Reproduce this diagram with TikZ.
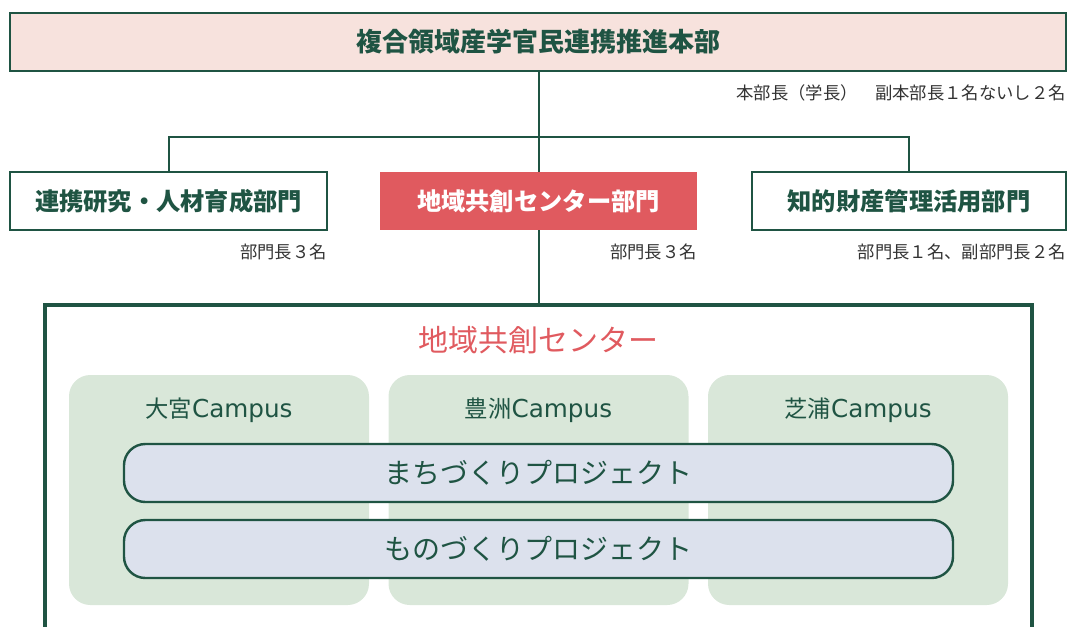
\documentclass[tikz,border=0pt]{standalone}
\usepackage{fontspec}
\newfontfamily\jp{Noto Sans CJK JP}
\newfontfamily\lat{DejaVu Sans}
\definecolor{dg}{HTML}{1F5443}
\definecolor{rd}{HTML}{E05A5F}
\definecolor{pk}{HTML}{F7E2DD}
\definecolor{cg}{HTML}{D9E7D9}
\definecolor{pl}{HTML}{DCE1ED}
\definecolor{tx}{HTML}{333333}
\tikzset{
  topbox/.style={draw=dg,line width=2.2pt,fill=pk,minimum width=792pt,minimum height=43.5pt,inner sep=0pt,
    font=\jp\bfseries\fontsize{19.5}{22}\selectfont,text=dg},
  deptbox/.style={draw=dg,line width=2.2pt,fill=white,minimum height=43.5pt,inner sep=0pt,
    font=\jp\bfseries\fontsize{18.2}{22}\selectfont,text=dg},
  redbox/.style={fill=rd,minimum height=43.5pt,inner sep=0pt,
    font=\jp\bfseries\fontsize{18.2}{22}\selectfont,text=white},
  sublabel/.style={anchor=east,inner sep=0pt,font=\jp\fontsize{13}{15}\selectfont,text=tx},
  campus/.style={fill=cg,rounded corners=16pt,minimum width=225pt,minimum height=172.5pt,inner sep=0pt},
  campuslabel/.style={inner sep=0pt,text=dg},
  pill/.style={draw=dg,line width=1.8pt,fill=pl,rounded corners=16pt,minimum width=621.75pt,minimum height=43.5pt,
    inner sep=0pt,font=\jp\fontsize{21}{24}\selectfont,text=dg},
  conn/.style={draw=dg,line width=1.5pt},
  bigframe/.style={draw=dg,line width=3.6pt}
}
\newcommand{\camp}[1]{{\jp\fontsize{17.5}{18}\selectfont #1}{\lat\fontsize{18.5}{18}\selectfont Campus}}
\begin{document}
\begin{tikzpicture}[x=0.75pt,y=-0.75pt]
\useasboundingbox (0,0) rectangle (1070,626);
% top
\node[topbox] (top) at (538,42) {複合領域産学官民連携推進本部};
\node[sublabel] (toplab) at (1066,93) {本部長（学長）　副本部長１名ないし２名};
% departments
\node[deptbox,minimum width=237.75pt] (left) at (168.5,201) {連携研究・人材育成部門};
\node[redbox,minimum width=237.75pt] (center) at (538.5,201) {地域共創センター部門};
\node[deptbox,minimum width=235.5pt] (right) at (909,201) {知的財産管理活用部門};
\node[sublabel] (leftlab) at (327,252) {部門長３名};
\node[sublabel] (centerlab) at (697,252) {部門長３名};
\node[sublabel] (rightlab) at (1066,252) {部門長１名、副部門長２名};
% connectors
\coordinate (j) at (538.5,137);
\coordinate (bigtop) at (538.5,305);
\draw[conn] (top.south -| j) -- (center.north);
\draw[conn] (left.north) |- (j) -| (right.north);
\draw[conn] (center.south) -- (bigtop);
% big frame (open at bottom)
\draw[bigframe] (45,640) -- (45,305) -- (bigtop) -- (1032,305) -- (1032,640);
\node[inner sep=0pt,text=rd,font=\jp\fontsize{22.5}{26}\selectfont] (bigtitle) at (538.5,340) {地域共創センター};
% campuses
\node[campus] (c1) at (219,490) {};
\node[campus] (c2) at (538.5,490) {};
\node[campus] (c3) at (858,490) {};
\node[campuslabel] (c1l) at (219,410) {\camp{大宮}};
\node[campuslabel] (c2l) at (538.5,410) {\camp{豊洲}};
\node[campuslabel] (c3l) at (858,410) {\camp{芝浦}};
% projects
\node[pill] (p1) at (538.5,473) {まちづくりプロジェクト};
\node[pill] (p2) at (538.5,549) {ものづくりプロジェクト};
\end{tikzpicture}
\end{document}
